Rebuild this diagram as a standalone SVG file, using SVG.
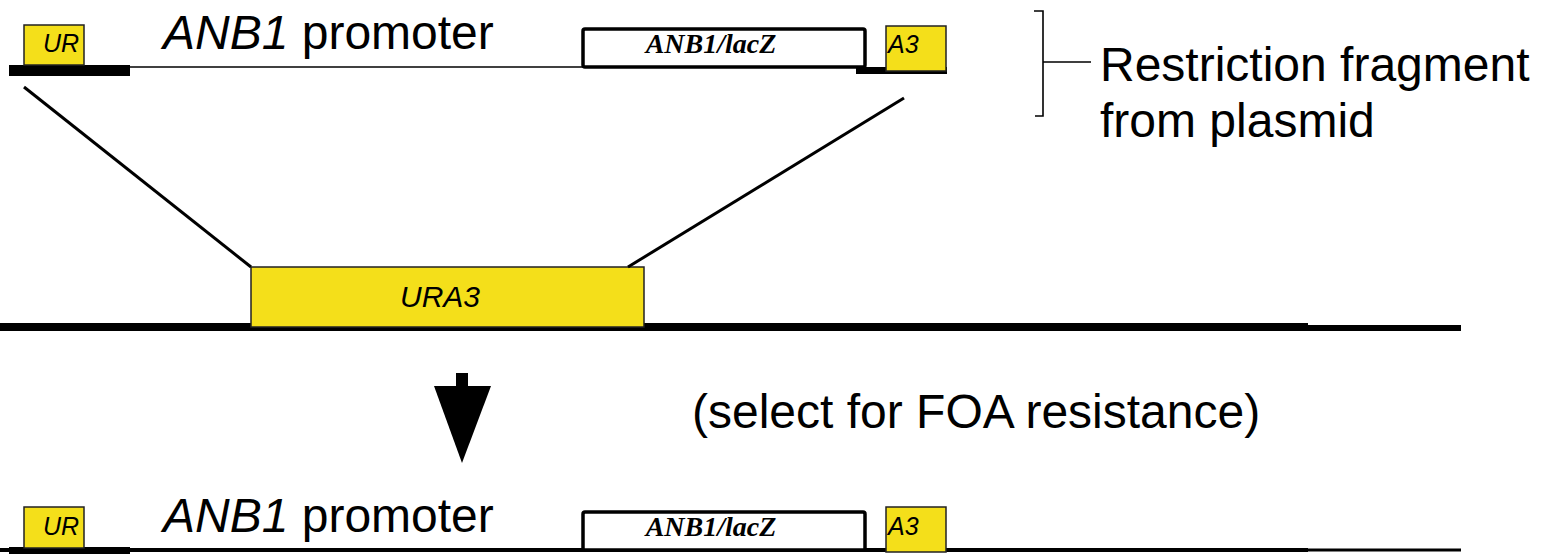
<svg xmlns="http://www.w3.org/2000/svg" width="1548" height="554" viewBox="0 0 1548 554">
  <style>
    .marker-box { fill: #F4DF1A; stroke: #222; stroke-width: 1.5; }
    .gene-box { fill: #fff; stroke: #000; stroke-width: 3.5; }
    .sans { font-family: "Liberation Sans", Arial, sans-serif; fill: #000; }
    .label { font-size: 48px; }
    .small { font-size: 25px; font-style: italic; }
    .gene { font-family: "Liberation Serif", "Times New Roman", serif; font-size: 28px; font-style: italic; font-weight: bold; fill: #000; }
    .dna { stroke: #000; fill: none; }
  </style>

  <!-- Plasmid restriction fragment (top) -->
  <g id="fragment">
    <line class="dna" x1="130" y1="67" x2="583" y2="67" stroke-width="1.6"/>
    <rect x="9" y="65" width="121" height="11" fill="#000"/>
    <rect x="856" y="67" width="91" height="7" fill="#000"/>
    <rect class="marker-box" x="24" y="25" width="60" height="40"/>
    <text class="sans small" x="43" y="52">UR</text>
    <text class="sans label" x="163" y="49"><tspan font-style="italic">ANB1</tspan> promoter</text>
    <rect class="gene-box" x="583" y="29" width="282" height="38" rx="2"/>
    <text class="gene" x="711" y="53" text-anchor="middle">ANB1/lacZ</text>
    <rect class="marker-box" x="886" y="26" width="60" height="45"/>
    <text class="sans small" x="888" y="53">A3</text>
  </g>

  <!-- Bracket and its label -->
  <g id="fragment-label">
    <path class="dna" d="M1034 11 H1043 V116 H1035 M1043 62 H1091" stroke-width="1.6"/>
    <text class="sans label" x="1100" y="81">Restriction fragment</text>
    <text class="sans label" x="1100" y="137">from plasmid</text>
  </g>

  <!-- Chromosomal URA3 locus -->
  <g id="chromosome">
    <rect x="0" y="323" width="1308" height="8" fill="#000"/>
    <rect x="1308" y="325" width="153" height="6" fill="#000"/>
    <rect class="marker-box" x="251" y="267" width="393" height="60"/>
    <text class="sans" x="440" y="307" font-size="30" font-style="italic" text-anchor="middle">URA3</text>
  </g>

  <!-- Recombination crossover lines -->
  <g id="connectors">
    <line class="dna" x1="24" y1="87" x2="251" y2="267" stroke-width="3"/>
    <line class="dna" x1="904" y1="98" x2="628" y2="267" stroke-width="3"/>
  </g>

  <!-- Selection arrow -->
  <g id="selection">
    <rect x="456" y="373" width="12" height="14" fill="#000"/>
    <polygon points="434,386 491,386 462,463" fill="#000"/>
    <text class="sans label" x="692" y="428">(select for FOA resistance)</text>
  </g>

  <!-- Resulting integrated locus (bottom) -->
  <g id="result">
    <rect x="0" y="548" width="1308" height="4" fill="#000"/>
    <rect x="1308" y="548.5" width="153" height="3" fill="#000"/>
    <rect x="9" y="547" width="121" height="7" fill="#000"/>
    <rect class="marker-box" x="24" y="507" width="60" height="41"/>
    <text class="sans small" x="43" y="535">UR</text>
    <text class="sans label" x="163" y="532"><tspan font-style="italic">ANB1</tspan> promoter</text>
    <rect class="gene-box" x="583" y="512" width="282" height="38" rx="2"/>
    <text class="gene" x="711" y="536" text-anchor="middle">ANB1/lacZ</text>
    <rect class="marker-box" x="886" y="507" width="60" height="45"/>
    <text class="sans small" x="888" y="535">A3</text>
  </g>
</svg>
